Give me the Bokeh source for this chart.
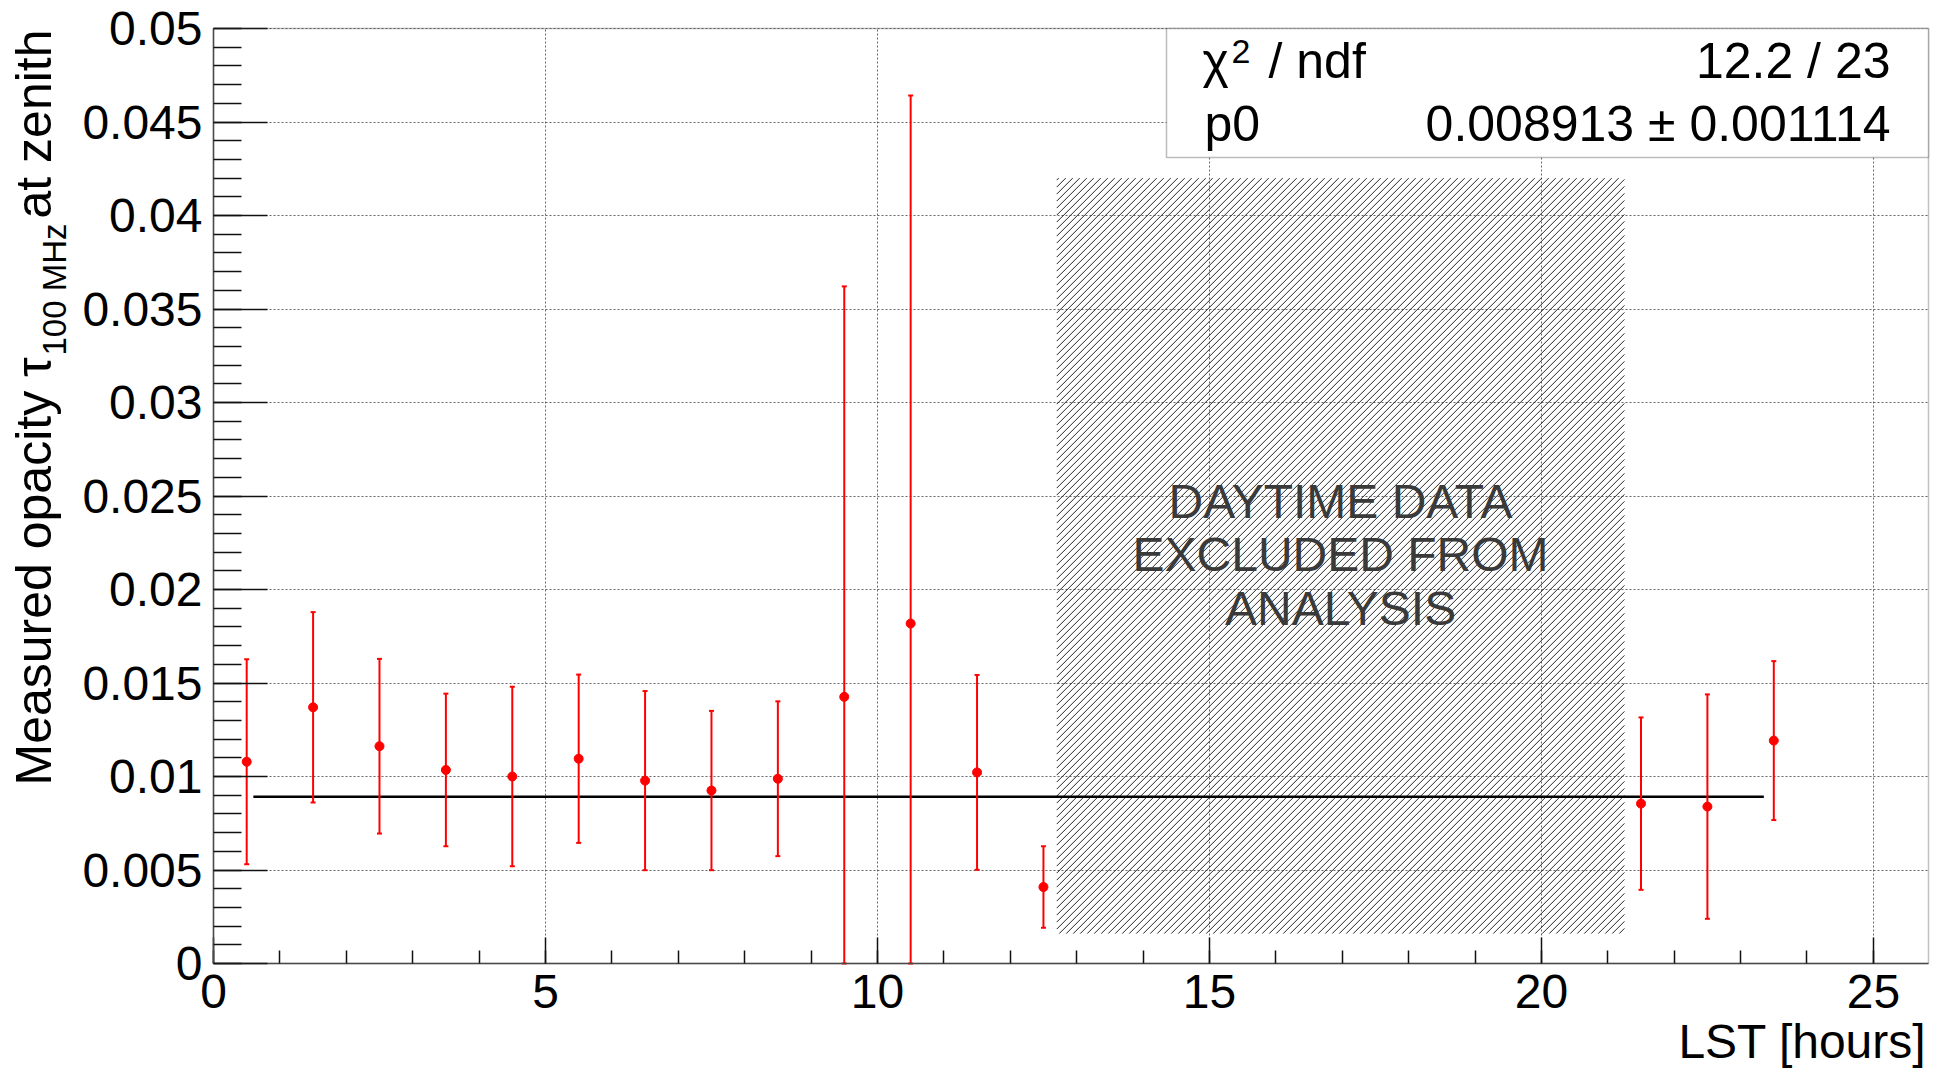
import math
from bokeh.plotting import figure
from bokeh.models import FixedTicker, NumeralTickFormatter, Label, BoxAnnotation, ColumnDataSource, Grid
from bokeh.embed import file_html
from bokeh.resources import INLINE

# ---------------- data ----------------
lst_hours = [0.5, 1.5, 2.5, 3.5, 4.5, 5.5, 6.5, 7.5, 8.5, 9.5, 10.5, 11.5, 12.5, 21.5, 22.5, 23.5]
opacity = [0.01079, 0.01370, 0.01162, 0.01035, 0.01000, 0.01095, 0.00978, 0.00925,
           0.00988, 0.01426, 0.01818, 0.01022, 0.00409, 0.00855, 0.00839, 0.01192]
opacity_err = [0.00548, 0.00509, 0.00467, 0.00408, 0.00480, 0.00450, 0.00479, 0.00426,
               0.00414, 0.02195, 0.02824, 0.00521, 0.00218, 0.00461, 0.00600, 0.00425]

fit_p0 = 0.008913
fit_p0_err = 0.001114
fit_chi2 = 12.2
fit_ndf = 23
fit_range = [0.6, 23.35]

daytime_lst = [12.7, 21.25]
daytime_tau = [0.0016, 0.042]
daytime_text = ["DAYTIME DATA", "EXCLUDED FROM", "ANALYSIS"]

x_ticks = [0, 5, 10, 15, 20, 25]
x_minor = list(range(0, 26))
y_ticks = [round(i * 0.005, 3) for i in range(11)]
y_minor = [round(i * 0.001, 3) for i in range(51)]

X_MAX = 25.83
Y_MAX = 0.05

# ---------------- layout (pixels) ----------------
W, H = 1948, 1071
FL, FR, FT, FB = 213, 1928, 28, 963   # ROOT frame edges in pixels
XS = (FR - FL) / X_MAX
YS = (FB - FT) / Y_MAX


def dx(px):
    return (px - FL) / XS


def dy(py):
    return (FB - py) / YS


FONT = "Liberation Sans"
K_BASE = 0.39   # empirical baseline correction (fraction of font size)

# the plotting frame covers the whole canvas; the ROOT-like frame is drawn inside it
p = figure(width=W, height=H, output_backend="svg", toolbar_location=None,
           x_range=(dx(0), dx(W)), y_range=(dy(H), dy(0)),
           min_border=0, min_border_left=0, min_border_right=0,
           min_border_top=0, min_border_bottom=0)
p.background_fill_color = "white"
p.border_fill_color = "white"
p.outline_line_color = None

# axes (fixed inside the canvas at the frame edges)
for ax in (p.xaxis[0], p.yaxis[0]):
    ax.fixed_location = 0
    ax.axis_line_color = "#555555"
    ax.axis_line_width = 1.5
    ax.major_tick_line_color = "#111111"
    ax.minor_tick_line_color = "#111111"
    ax.major_tick_line_width = 1.5
    ax.minor_tick_line_width = 1.5
    ax.major_tick_out = 0
    ax.minor_tick_out = 0
    ax.major_label_text_font = FONT
    ax.major_label_text_font_size = "48px"
    ax.major_label_text_color = "black"

p.xaxis.bounds = (0, X_MAX)
p.yaxis.bounds = (0, Y_MAX)
p.xaxis.ticker = FixedTicker(ticks=x_ticks, minor_ticks=x_minor)
p.yaxis.ticker = FixedTicker(ticks=y_ticks, minor_ticks=y_minor)
p.xaxis.major_tick_in = 26
p.xaxis.minor_tick_in = 13
p.yaxis.major_tick_in = 54
p.yaxis.minor_tick_in = 28
p.xaxis.major_label_standoff = 11
p.yaxis.major_label_standoff = 11
p.yaxis.formatter = NumeralTickFormatter(format="0.[000]")

GRID_COLOR = "#666666"
if "cross_bounds" in Grid.properties():
    p.xgrid[0].bounds = (0, X_MAX)
    p.xgrid[0].cross_bounds = (0, Y_MAX)
    p.ygrid[0].bounds = (0, Y_MAX)
    p.ygrid[0].cross_bounds = (0, X_MAX)
    for g in (p.xgrid[0], p.ygrid[0]):
        g.grid_line_color = GRID_COLOR
        g.grid_line_dash = "2 2"
        g.grid_line_width = 1
else:
    for g in (p.xgrid[0], p.ygrid[0]):
        g.grid_line_color = None
    p.segment(x0=x_ticks, x1=x_ticks, y0=[0] * len(x_ticks), y1=[Y_MAX] * len(x_ticks),
              line_color=GRID_COLOR, line_dash="2 2", line_width=1)
    p.segment(x0=[0] * len(y_ticks), x1=[X_MAX] * len(y_ticks), y0=y_ticks, y1=y_ticks,
              line_color=GRID_COLOR, line_dash="2 2", line_width=1)

# hatched daytime region: 45-degree hatch lines (ROOT fill style), spaced HATCH_STEP px
HATCH_STEP = 7.0
hl = FL + XS * daytime_lst[0]
hr = FL + XS * daytime_lst[1]
ht = FB - YS * daytime_tau[1]
hb = FB - YS * daytime_tau[0]
hx0, hx1, hy0, hy1 = [], [], [], []
c = hl + ht + 2.0
while c < hr + hb:
    lo = max(hl, c - hb)
    hi = min(hr, c - ht)
    if hi > lo:
        hx0.append(dx(lo)); hy0.append(dy(c - lo))
        hx1.append(dx(hi)); hy1.append(dy(c - hi))
    c += HATCH_STEP
p.segment(x0=hx0, y0=hy0, x1=hx1, y1=hy1, line_color="#262626", line_width=1)

# fit line
p.line(x=fit_range, y=[fit_p0, fit_p0], line_color="black", line_width=2.5)

# data with error bars
upper = [v + e for v, e in zip(opacity, opacity_err)]
lower = [max(v - e, 0.0) for v, e in zip(opacity, opacity_err)]
src = ColumnDataSource(dict(x=lst_hours, y=opacity, up=upper, lo=lower))
p.segment(x0="x", x1="x", y0="lo", y1="up", source=src, line_color="red", line_width=2)
p.scatter(x="x", y="up", source=src, marker="dash", size=5, line_color="red", line_width=2)
p.scatter(x="x", y="lo", source=src, marker="dash", size=5, line_color="red", line_width=2)
p.scatter(x="x", y="y", source=src, marker="circle", size=9, fill_color="red", line_color="red")

# ROOT frame (top / right edges)
p.add_layout(BoxAnnotation(left=0, right=X_MAX, bottom=0, top=Y_MAX, fill_color=None,
                           line_color="#333333", line_width=1.5))

# stats box
p.add_layout(BoxAnnotation(left=dx(1166), right=X_MAX, top=Y_MAX, bottom=dy(157),
                           fill_color="white", fill_alpha=1, line_color="#222222", line_width=1.5))


def lab(px, py, text, size, align="left", angle=0.0, color="black"):
    shift = K_BASE * size
    if angle == 0.0:
        x, y = dx(px), dy(py - shift)
    else:
        x, y = dx(px - shift), dy(py)
    p.add_layout(Label(x=x, y=y, text=text, text_align=align, text_baseline="alphabetic",
                       text_font=FONT, text_font_size=f"{size}px", text_color=color, angle=angle))


# daytime text
xc_px = FL + XS * sum(daytime_lst) / 2
for txt, base in zip(daytime_text, [520, 573, 627]):
    lab(xc_px, base, txt, 48, align="center", color="#3a3a3a")

# stats text
lab(1202, 80, "\u03c7", 50)
lab(1231, 64, "2", 34)
lab(1268, 80, "/ ndf", 50)
lab(1890, 80, f"{fit_chi2:.1f} / {fit_ndf}", 50, align="right")
lab(1204, 143, "p0", 50)
lab(1890, 143, f"{fit_p0:.6f} \u00b1 {fit_p0_err:.6f}", 50, align="right")

# x axis title
lab(1926, 1060, "LST [hours]", 48, align="right")

# y axis title (rotated, with subscript)
lab(53, 785, "Measured opacity \u03c4", 50, angle=math.pi / 2)
lab(67, 355, "100 MHz", 33, angle=math.pi / 2)
lab(53, 218, "at zenith", 50, angle=math.pi / 2)

open("out.html", "w").write(file_html(p, INLINE))
